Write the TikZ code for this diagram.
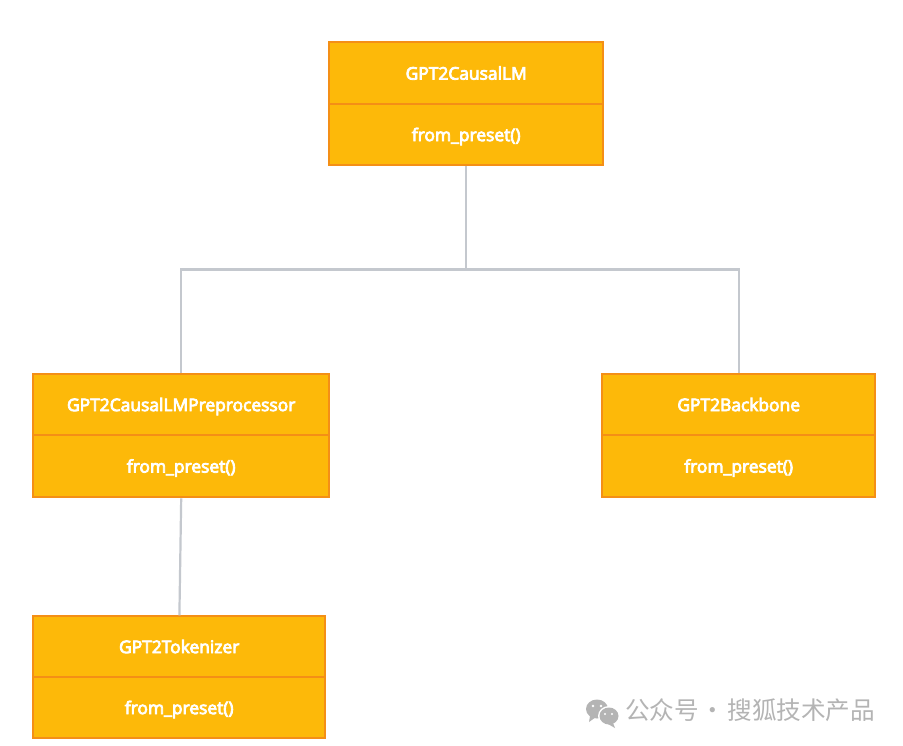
\documentclass[tikz,border=0pt]{standalone}
\usepackage{fontspec}
\setmainfont{Open Sans}
\newfontfamily\labelfont{Open Sans}[FakeBold=4.5]
\newfontfamily\cjkfont{Noto Sans CJK SC}
\definecolor{boxfill}{HTML}{FDB909}
\definecolor{boxline}{HTML}{F48F16}
\definecolor{conn}{HTML}{C4C8CE}
\definecolor{wmgrey}{HTML}{B4B4B4}
\tikzset{
  cell/.style={rectangle,draw=boxline,fill=boxfill,line width=2pt,text=white,
    inner sep=0pt,anchor=north west,align=center,text height=14pt,text depth=1.6pt,
    font=\fontsize{17.4}{20}\selectfont\labelfont},
  linkline/.style={draw=conn,line width=2.2pt},
}
\begin{document}
\begin{tikzpicture}[x=1pt,y=-1pt]
\useasboundingbox (0,0) rectangle (903,746);
\fill[white] (0,0) rectangle (903,746);
\begin{scope}[shift={(-0.8,-0.6)}]
% top
\node[cell,minimum width=274pt,minimum height=62pt] (ah) at (329,42) {GPT2CausalLM};
\node[cell,minimum width=274pt,minimum height=61pt] (am) at (329,104) {from\_preset()};
% left
\node[cell,minimum width=296pt,minimum height=61pt] (bh) at (33,374) {GPT2CausalLMPreprocessor};
\node[cell,minimum width=296pt,minimum height=62pt] (bm) at (33,435) {from\_preset()};
% right
\node[cell,minimum width=273pt,minimum height=61pt] (ch) at (602,374) {GPT2Backbone};
\node[cell,minimum width=273pt,minimum height=62pt] (cm) at (602,435) {from\_preset()};
% bottom
\node[cell,minimum width=292pt,minimum height=61pt] (dh) at (33,616) {GPT2Tokenizer};
\node[cell,minimum width=292pt,minimum height=61pt] (dm) at (33,677) {from\_preset()};
\end{scope}
% connectors
\coordinate (j) at (am.south |- 0,269.5);
\path[linkline] (am.south) -- (j);
\path[linkline] (bh.north) |- (j) -| (ch.north);
\path[linkline] (bm.south) -- ([xshift=0.2pt]dh.north);
% watermark
\fill[wmgrey] (597,709) ellipse (11pt and 9.5pt);
\fill[wmgrey] (590,716) -- (589,722) -- (596,717) -- cycle;
\fill[white] (609,716) ellipse (11pt and 10pt);
\fill[wmgrey] (609,716) ellipse (9.5pt and 8.5pt);
\fill[wmgrey] (613,723) -- (615,728) -- (608,724) -- cycle;
\fill[white] (593,706) circle (1.4pt) (601,706) circle (1.4pt) (605,714) circle (1.2pt) (612,714) circle (1.2pt);
\node[text=wmgrey,inner sep=0pt,anchor=west,font=\fontsize{24.6}{28}\selectfont\cjkfont] (wm) at (625,710.5) {公众号\kern2pt·\kern2pt搜狐技术产品};
\end{tikzpicture}
\end{document}
